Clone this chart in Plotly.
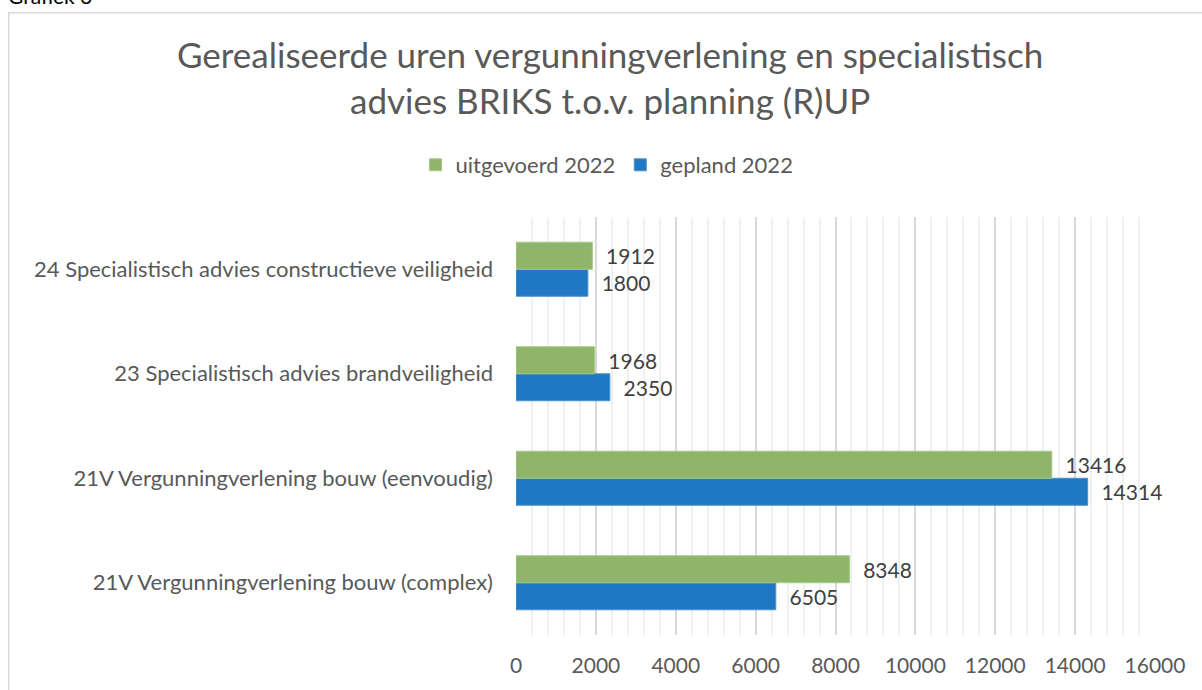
import plotly.graph_objects as go

categories = [
    "21V Vergunningverlening bouw (complex)",
    "21V Vergunningverlening bouw (eenvoudig)",
    "23 Specialistisch advies brandveiligheid",
    "24 Specialistisch advies constructieve veiligheid",
]
uitgevoerd_2022 = [8348, 13416, 1968, 1912]
gepland_2022 = [6505, 14314, 2350, 1800]
series_names = ["uitgevoerd 2022", "gepland 2022"]
x_ticks = [0, 2000, 4000, 6000, 8000, 10000, 12000, 14000, 16000]
title_text = "Gerealiseerde uren vergunningverlening en specialistisch<br>advies BRIKS t.o.v. planning (R)UP"
caption_text = "Grafiek 6"

W, H = 1202, 690
# plot area in screenshot pixels
L, R, T, B = 516, 1155, 217, 635
FONT = "Lato"
GREEN = "#8FB56A"
BLUE = "#1F78C1"
TXT = "#595959"
LBL = "#404040"


def px_x(p):
    return (p - L) / (R - L)


def px_y(p):
    return (B - p) / (B - T)


fig = go.Figure()
fig.add_trace(go.Bar(
    name=series_names[1], y=categories, x=gepland_2022, orientation="h",
    marker=dict(color=BLUE, line=dict(color="#4A93D0", width=1)),
    texttemplate="\u00a0\u00a0%{x:.0f}", textposition="outside", cliponaxis=False,
    textfont=dict(family=FONT, size=21, color=LBL),
))
fig.add_trace(go.Bar(
    name=series_names[0], y=categories, x=uitgevoerd_2022, orientation="h",
    marker=dict(color=GREEN, line=dict(color="#A8C88A", width=1)),
    texttemplate="\u00a0\u00a0%{x:.0f}", textposition="outside", cliponaxis=False,
    textfont=dict(family=FONT, size=21, color=LBL),
))

fig.update_layout(
    width=W, height=H,
    margin=dict(l=L, r=W - R, t=T, b=H - B, pad=0),
    paper_bgcolor="white", plot_bgcolor="white",
    barmode="group", bargap=0.483, bargroupgap=0,
    font=dict(family=FONT, size=21, color=TXT),
    showlegend=True,
    legend=dict(
        orientation="h", traceorder="reversed",
        x=px_x(607), xanchor="center", y=px_y(165), yanchor="middle",
        font=dict(family=FONT, size=22, color=TXT),
        itemwidth=30,
    ),
    xaxis=dict(
        range=[0, 16000], tickvals=x_ticks, ticktext=[str(v) for v in x_ticks],
        showgrid=True, gridcolor="#D9D9D9", gridwidth=1.5,
        minor=dict(dtick=400, showgrid=True, gridcolor="#F0F0F0", gridwidth=1.5),
        zeroline=False, showline=False, ticks="",
        ticklabelstandoff=16,
        tickfont=dict(family=FONT, size=21, color=TXT),
    ),
    yaxis=dict(
        categoryorder="array", categoryarray=categories,
        showgrid=False, zeroline=False, showline=False, ticks="",
        ticklabelstandoff=22,
        tickfont=dict(family=FONT, size=22, color=TXT),
    ),
    shapes=[dict(
        type="rect", xref="paper", yref="paper",
        x0=px_x(8.75), x1=px_x(1220), y0=px_y(12.75), y1=px_y(720),
        line=dict(color="#D9D9D9", width=1.5), fillcolor="rgba(0,0,0,0)", layer="below",
    )],
    annotations=[
        dict(text=title_text, xref="paper", yref="paper", x=px_x(610), y=px_y(77),
             xanchor="center", yanchor="middle", showarrow=False,
             font=dict(family=FONT, size=35, color=TXT)),
        dict(text=caption_text, xref="paper", yref="paper", x=px_x(6), y=px_y(10),
             xanchor="left", yanchor="bottom", showarrow=False,
             font=dict(family=FONT, size=21, color="#000000")),
    ],
)

fig.write_html(
    "out.html",
    config={"displayModeBar": False},
    post_script="document.body.style.margin='0';document.body.style.overflow='hidden';",
)
